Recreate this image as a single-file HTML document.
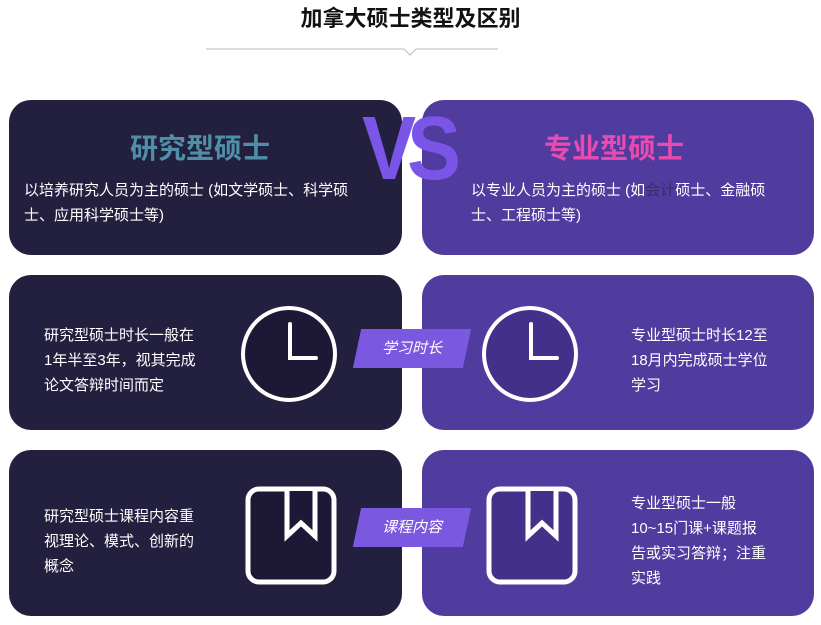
<!DOCTYPE html>
<html><head><meta charset="utf-8"><style>
*{margin:0;padding:0;box-sizing:border-box}
body{width:821px;height:625px;background:#fff;position:relative;overflow:hidden;font-family:"Liberation Sans","Noto Sans CJK SC",sans-serif}
.t{position:absolute;left:0;width:821px;top:1px;text-align:center;font-size:22px;font-weight:bold;color:#111}
.card{position:absolute;border-radius:22px}
.L{left:9px;width:393px;background:#231f3e}
.R{left:422px;width:392px;background:#503b9e}
.txt{position:absolute;color:#fff;font-size:15px;line-height:25px;white-space:nowrap}
.lab{position:absolute;left:357px;width:110px;height:39px;background:#7b58e0;transform:skewX(-12deg);}
.labt{position:absolute;left:357px;width:110px;height:39px;line-height:39px;text-align:center;color:#fff;font-style:italic;font-size:15px}
</style></head><body>
<div class="t">加拿大硕士类型及区别</div>
<svg style="position:absolute;left:0;top:0" width="821" height="60"><polyline points="206,49 404,49 410,55 416,49 498,49" fill="none" stroke="#bbb" stroke-width="1"/></svg>

<div class="card L" style="top:100px;height:155px"></div>
<div class="card R" style="top:100px;height:155px"></div>
<div class="card L" style="top:275px;height:155px"></div>
<div class="card R" style="top:275px;height:155px"></div>
<div class="card L" style="top:450px;height:166px"></div>
<div class="card R" style="top:450px;height:166px"></div>

<div style="position:absolute;left:130px;top:127px;font-size:28px;font-weight:bold;color:#4f8fa8">研究型硕士</div>
<div style="position:absolute;left:544px;top:127px;font-size:28px;font-weight:bold;color:#e84bb0">专业型硕士</div>
<div style="position:absolute;left:362px;top:99px;font-size:90px;line-height:100px;font-weight:bold;color:#7a55e8;letter-spacing:-10px;transform:scaleX(0.9);transform-origin:left">VS</div>

<div class="txt" style="left:24px;top:178px">以培养研究人员为主的硕士 (如文学硕士、科学硕<br>士、应用科学硕士等)</div>
<div class="txt" style="left:471px;top:178px">以专业人员为主的硕士 (如<span style="color:#3a2e6a">会计</span>硕士、金融硕<br>士、工程硕士等)</div>

<div class="txt" style="left:44px;top:323px">研究型硕士时长一般在<br>1年半至3年，视其完成<br>论文答辩时间而定</div>
<div class="txt" style="left:631px;top:323px">专业型硕士时长12至<br>18月内完成硕士学位<br>学习</div>
<div class="txt" style="left:44px;top:504px">研究型硕士课程内容重<br>视理论、模式、创新的<br>概念</div>
<div class="txt" style="left:631px;top:491px">专业型硕士一般<br>10~15门课+课题报<br>告或实习答辩；注重<br>实践</div>

<svg style="position:absolute;left:0;top:0" width="821" height="625">
<circle cx="289" cy="354" r="46" fill="#1d1836" stroke="#fff" stroke-width="4"/>
<polyline points="290,324 290,358 316,358" fill="none" stroke="#fff" stroke-width="4" stroke-linecap="round"/>
<circle cx="530" cy="354" r="46" fill="#43308a" stroke="#fff" stroke-width="4"/>
<polyline points="531,324 531,358 557,358" fill="none" stroke="#fff" stroke-width="4" stroke-linecap="round"/>
<rect x="248" y="489" width="86" height="93" rx="11" fill="#1d1836" stroke="#fff" stroke-width="5"/>
<polyline points="287,491 287,536 301,523 315,536 315,491" fill="#1d1836" stroke="#fff" stroke-width="5"/>
<rect x="489" y="489" width="86" height="93" rx="11" fill="#43308a" stroke="#fff" stroke-width="5"/>
<polyline points="528,491 528,536 542,523 556,536 556,491" fill="#43308a" stroke="#fff" stroke-width="5"/>
</svg>

<div class="lab" style="top:329px"></div><div class="labt" style="top:329px">学习时长</div>
<div class="lab" style="top:508px"></div><div class="labt" style="top:508px">课程内容</div>
</body></html>
